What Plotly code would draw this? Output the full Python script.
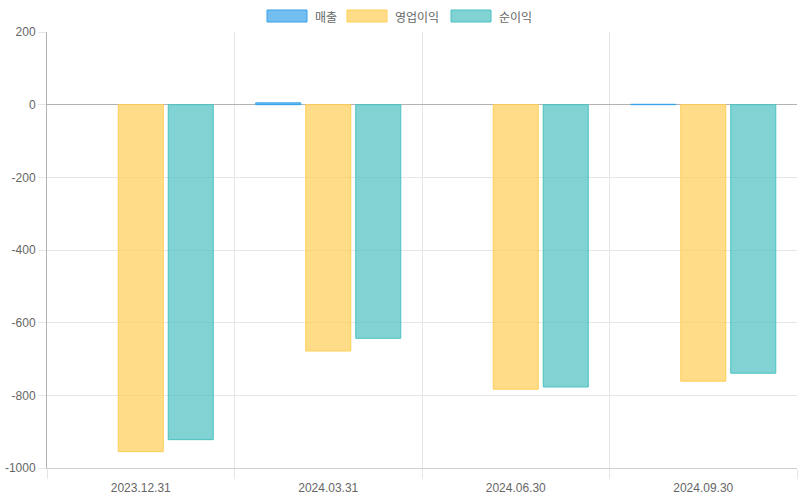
import plotly.graph_objects as go

categories = ["2023.12.31", "2024.03.31", "2024.06.30", "2024.09.30"]
sales = [0, 5, 0, 1]
operating_profit = [-955, -678, -783, -761]
net_profit = [-922, -643, -777, -739]
y_ticks = [200, 0, -200, -400, -600, -800, -1000]

series = [
    ("매출", sales, "rgba(54,162,235,0.7)", "rgb(54,162,235)"),
    ("영업이익", operating_profit, "rgba(255,206,86,0.7)", "rgb(255,206,86)"),
    ("순이익", net_profit, "rgba(75,192,192,0.7)", "rgb(75,192,192)"),
]

W, H = 800, 500
ML, MR, MT, MB = 47, 3, 32, 32
PW, PH = W - ML - MR, H - MT - MB

def px_x(p):
    return (p - ML) / PW

def px_y(p):
    return (H - MB - p) / PH

xpos = list(range(len(categories)))
fig = go.Figure()
for name, vals, fill, line in series:
    fig.add_trace(go.Bar(
        x=xpos, y=vals, name=name,
        marker=dict(color=fill, line=dict(color=line, width=[0 if v == 0 else 1 for v in vals])),
        customdata=categories,
        hovertemplate="%{customdata}<br>" + name + ": %{y}<extra></extra>",
        showlegend=False,
    ))

# legend drawn as boxes + text (Chart.js style)
legend_font = "Noto Sans CJK KR, Liberation Sans, sans-serif"
box_lefts = [267, 347, 451]
for (name, vals, fill, line), bl in zip(series, box_lefts):
    fig.add_shape(type="rect", xref="paper", yref="paper",
                  x0=px_x(bl), x1=px_x(bl + 40), y0=px_y(22), y1=px_y(10),
                  fillcolor=fill, line=dict(color=line, width=1))
    fig.add_annotation(xref="paper", yref="paper", x=px_x(bl + 46), y=px_y(16),
                       xanchor="left", yanchor="middle", text=name, showarrow=False,
                       font=dict(family=legend_font, size=12, color="#666"))

font_main = "Liberation Sans, Arial, Noto Sans CJK KR, sans-serif"
fig.update_layout(
    width=W, height=H,
    margin=dict(l=ML, r=MR, t=MT, b=MB),
    paper_bgcolor="white", plot_bgcolor="white",
    barmode="group", bargap=0.2, bargroupgap=0.1,
    font=dict(family=font_main, size=12, color="#666"),
    showlegend=False,
)
fig.update_xaxes(
    range=[-0.5, len(categories) - 0.5],
    tickmode="array", tickvals=xpos, ticktext=categories,
    showgrid=False, ticks="outside", ticklen=9, tickcolor="rgba(0,0,0,0)",
    showline=True, linecolor="#d0d0d0",
    zeroline=False,
    minor=dict(tickmode="array", tickvals=[i - 0.5 for i in range(len(categories) + 1)],
               showgrid=True, gridcolor="#e6e6e6", gridwidth=1,
               ticks="outside", ticklen=10, tickcolor="#e6e6e6"),
    tickfont=dict(size=12, color="#666"),
)
fig.update_yaxes(
    range=[-1000, 200], tickmode="array", tickvals=y_ticks,
    ticktext=[str(v) for v in y_ticks],
    showgrid=True, gridcolor="#e6e6e6", gridwidth=1,
    zeroline=True, zerolinecolor="#b3b3b3", zerolinewidth=1,
    showline=True, linecolor="#b3b3b3",
    ticks="outside", ticklen=8, tickcolor="#e6e6e6",
    tickfont=dict(size=12, color="#666"),
)
fig.write_html("out.html")
